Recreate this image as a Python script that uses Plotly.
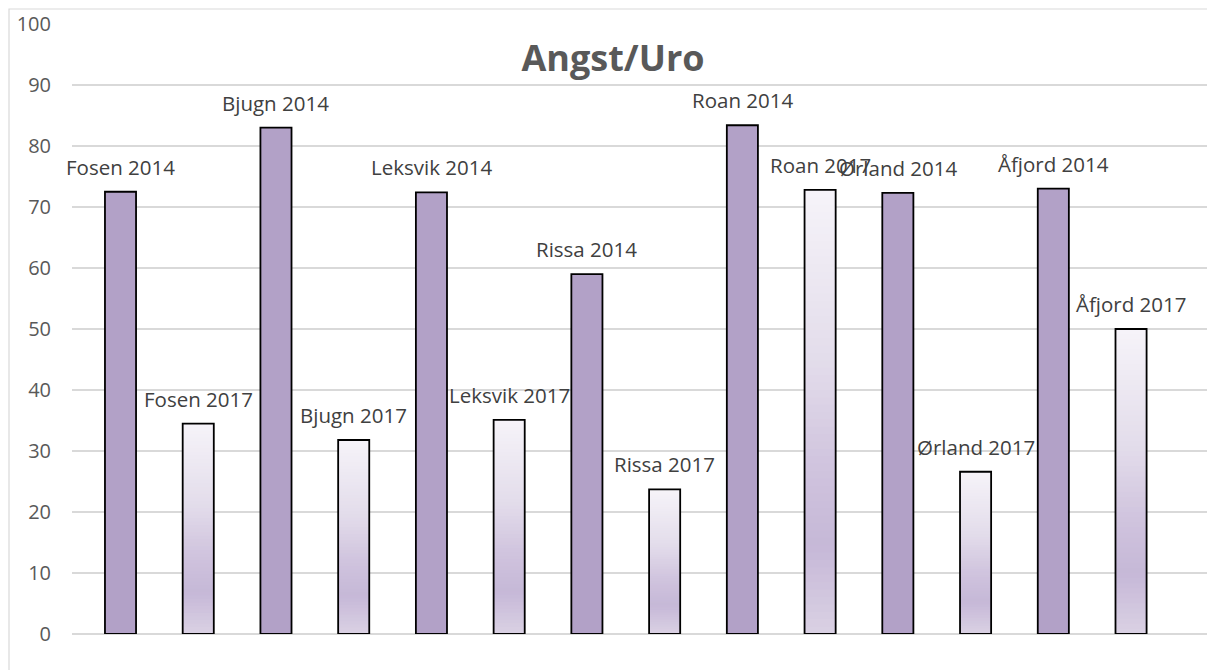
import plotly.graph_objects as go

# ---- data ----
kommuner = ["Fosen", "Bjugn", "Leksvik", "Rissa", "Roan", "Ørland", "Åfjord"]
years = ["2014", "2017"]
values_2014 = [72.5, 83.0, 72.4, 59.0, 83.4, 72.3, 73.0]
values_2017 = [34.5, 31.8, 35.1, 23.7, 72.8, 26.6, 50.0]
title_text = "Angst/Uro"
y_ticks = [0, 10, 20, 30, 40, 50, 60, 70, 80, 90, 100]

cats_2014 = [f"{k} {years[0]}" for k in kommuner]
cats_2017 = [f"{k} {years[1]}" for k in kommuner]
category_order = [c for pair in zip(cats_2014, cats_2017) for c in pair]

# ---- styling ----
FONT = "Open Sans"
COL_2014 = "#b2a1c7"
# gradient stops for the 2017 bars (0 = top of bar, 1 = bottom)
grad_stops = [(0.0, (246, 244, 249)), (0.4, (226, 219, 234)), (0.62, (208, 196, 222)),
              (0.8, (198, 184, 215)), (1.0, (218, 209, 228))]


def grad_color(t):
    for (t0, c0), (t1, c1) in zip(grad_stops[:-1], grad_stops[1:]):
        if t <= t1:
            f = (t - t0) / (t1 - t0) if t1 > t0 else 0
            return "rgb(%d,%d,%d)" % tuple(round(a + (b - a) * f) for a, b in zip(c0, c1))
    return "rgb(%d,%d,%d)" % grad_stops[-1][1]


BAR_W = 0.4
N = 60
gx, gy, gc = [], [], []
for j in range(N):
    frac = 1 - j / N
    col = grad_color((j + 0.5) / N)
    for c, v in zip(cats_2017, values_2017):
        gx.append(c)
        gy.append(v * frac)
        gc.append(col)

fig = go.Figure()
fig.add_trace(go.Bar(x=gx, y=gy, width=BAR_W, marker=dict(color=gc, line=dict(width=0)),
                     hoverinfo="skip", showlegend=False))
fig.add_trace(go.Bar(x=cats_2017, y=values_2017, width=BAR_W, name="2017",
                     marker=dict(color="rgba(0,0,0,0)", line=dict(color="#000000", width=1.8)),
                     showlegend=False))
fig.add_trace(go.Bar(x=cats_2014, y=values_2014, width=BAR_W, name="2014",
                     marker=dict(color=COL_2014, line=dict(color="#000000", width=1.8)),
                     showlegend=False))

annotations = []
for c, v in list(zip(cats_2014, values_2014)) + list(zip(cats_2017, values_2017)):
    annotations.append(dict(x=c, y=v, xref="x", yref="y", text=c, showarrow=False,
                            yshift=25, yanchor="middle", xanchor="center",
                            font=dict(family=FONT, size=20.5, color="#404040")))

# page body has an 8px default margin; layout numbers compensate for it
L, T, B, R = 64, 16, 44, 8
fig.update_layout(
    width=1215, height=670,
    margin=dict(l=L, r=R, t=T, b=B, autoexpand=False),
    paper_bgcolor="white", plot_bgcolor="white",
    barmode="overlay",
    title=dict(text=f"<b>{title_text}</b>", x=605 / 1215, xanchor="center",
               y=(670 - 50) / 670, yanchor="middle", yref="container",
               font=dict(family=FONT, size=36, color="#595959")),
    xaxis=dict(type="category", categoryorder="array", categoryarray=category_order,
               range=[-0.624, 14.08], showticklabels=False, showgrid=False,
               zeroline=False, showline=False, ticks="", automargin=False),
    yaxis=dict(range=[0, 100], tickvals=y_ticks, showgrid=True, gridcolor="#d9d9d9",
               gridwidth=1.5, zeroline=True, zerolinecolor="#d9d9d9", zerolinewidth=1.5,
               showline=False, ticks="", ticklabelstandoff=20, automargin=False,
               tickfont=dict(family=FONT, size=20, color="#595959")),
    annotations=annotations,
    shapes=[dict(type="rect", xref="paper", yref="paper",
                 x0=(1 - L) / 1143, x1=1.05, y0=-0.2, y1=1 + 15 / 610,
                 line=dict(color="#d9d9d9", width=1.2), fillcolor="rgba(0,0,0,0)", layer="below")],
    hovermode="closest",
)

fig.write_html("out.html")
